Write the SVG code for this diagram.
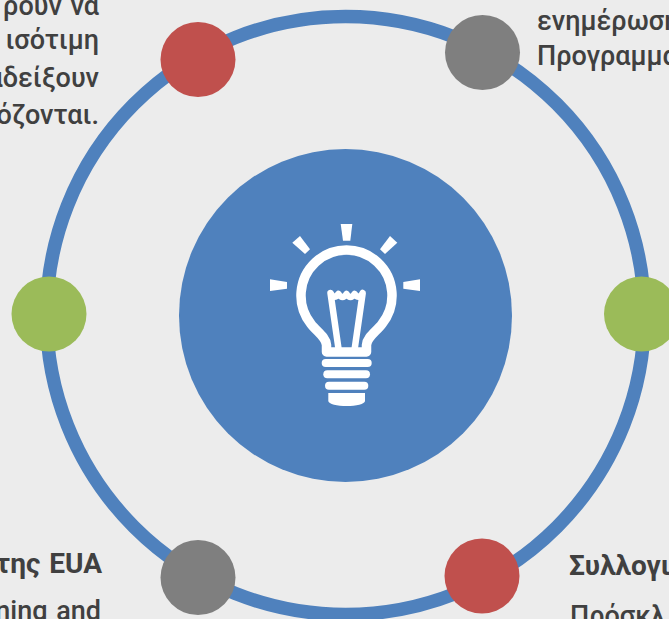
<svg xmlns="http://www.w3.org/2000/svg" width="669" height="619" viewBox="0 0 669 619">
<style>
.t{font-family:"Roboto","Noto Sans",sans-serif;font-size:27px;fill:#404040;font-weight:500;word-spacing:2px}
.b{font-weight:700;font-size:28px}
.e{text-anchor:end}
.w{fill:#fff}
.l{fill:none;stroke:#fff;stroke-linejoin:round;stroke-linecap:round}
.red{fill:#c0504d}.gray{fill:#7f7f7f}.green{fill:#9bbb59}
</style>
<rect width="669" height="619" fill="#ececec"/>
<g id="connectors"><circle cx="345.5" cy="315.5" r="299" fill="none" stroke="#4f81bd" stroke-width="13.5"/></g>
<g id="center"><circle cx="345.5" cy="315.5" r="166.5" fill="#4f81bd"/>
<g id="bulb">
<polygon class="w" points="340.7,224 352.3,224 350.3,240.7 343,240.7"/>
<polygon class="w" points="270,279.3 287,282 287,288.7 270,291"/>
<polygon class="w" points="420,279.3 403.3,282 403.3,288.7 420,291"/>
<polygon class="w" points="300,236 310,249.3 305,254 292.3,242.7"/>
<polygon class="w" points="390,236 397.3,242.7 385,254 380,249.3"/>
<path class="l" stroke-width="9.5" d="M326.5 352V345C326 337 316 331 311 324A45.5 45.5 0 1 1 382 324C377 331 367 337 366.5 345V352Z"/>
<path class="l" stroke-width="6.5" d="M338.7 350L330.5 293Q334 300 338.5 294Q342.5 300 346.5 294Q350.5 300 354.5 294Q359 300 362.7 293L354.5 350"/>
<rect class="w" x="321.7" y="359" width="50" height="8" rx="4"/>
<rect class="w" x="323.3" y="370.3" width="46.7" height="8" rx="4"/>
<rect class="w" x="325" y="381.7" width="43.3" height="8" rx="4"/>
<path class="w" d="M328.3 393H365V401C365 404 356 406 346.7 406S328.3 404 328.3 401Z"/>
</g></g>
<g id="n1"><circle class="red" cx="198" cy="59.5" r="37.5"/><text class="t e" x="99" y="15">ρουν να</text><text class="t e" x="99" y="49">ισότιμη</text><text class="t e" x="99" y="87">αδείξουν</text><text class="t e" x="99" y="124">όζονται.</text></g>
<g id="n2"><circle class="gray" cx="482.5" cy="52.5" r="37.5"/><text class="t" x="537" y="30">ενημέρωση</text><text class="t" x="537" y="65">Προγραμματος</text></g>
<g id="n3"><circle class="green" cx="49" cy="314" r="37.5"/></g>
<g id="n4"><circle class="green" cx="641.5" cy="314" r="37.5"/></g>
<g id="n5"><circle class="gray" cx="198" cy="577.5" r="37.5"/><text class="t b e" x="102" y="573">της EUA</text><text class="t e" x="101" y="620">ning and</text></g>
<g id="n6"><circle class="red" cx="482" cy="576" r="37.5"/><text class="t b" x="569" y="575">Συλλογι</text><text class="t" x="570" y="625">Πρόσκλ</text></g>
</svg>
